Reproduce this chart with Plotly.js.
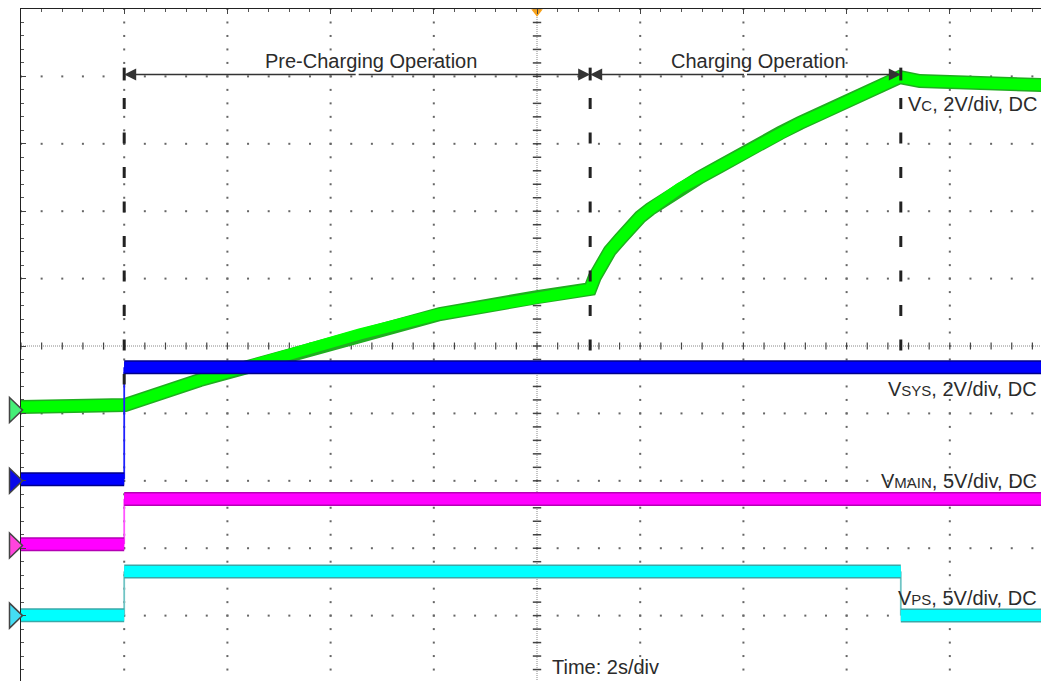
<!DOCTYPE html>
<html><head><meta charset="utf-8">
<script src="https://cdn.plot.ly/plotly-3.0.1.min.js"></script>
<style>html,body{margin:0;padding:0;overflow:hidden;background:#fff}#chart{width:1041px;height:681px}</style>
</head><body><div id="chart"></div>
<script>
// Oscilloscope capture: time 2 s/div; channel values in volts
const timeVc  = [0, 2.0, 2.02, 3.47, 5.02, 6.57, 8.12, 10.0, 10.99, 11.03, 11.12, 11.22, 11.41, 11.61, 11.80, 12.0, 12.19, 12.38, 12.77, 13.16, 13.55, 13.93, 14.32, 14.71, 15.10, 15.48, 15.87, 16.26, 16.65, 17.03, 17.42, 20];
const voltsVc = [0.09, 0.09, 0.15, 0.89, 1.57, 2.26, 2.85, 3.35, 3.56, 3.59, 3.95, 4.24, 4.72, 5.07, 5.43, 5.73, 5.96, 6.17, 6.59, 6.91, 7.24, 7.60, 7.92, 8.22, 8.52, 8.78, 9.05, 9.32, 9.58, 9.88, 9.76, 9.63];
const timeSys  = [0, 2.0, 2.0, 20];
const voltsSys = [0.05, 0.05, 3.37, 3.37];
const timeMain  = [0, 2.0, 2.0, 20];
const voltsMain = [0.1, 0.1, 3.46, 3.46];
const timePs  = [0, 2.0, 2.0, 17.05, 17.05, 20];
const voltsPs = [0.03, 0.03, 3.28, 3.28, 0, 0];

const channelScales  = [2, 2, 5, 5];               // V/div
const channelOffsets = [-0.95, -2.0, -2.96, -4.0]; // ground marker, div
const channelLabels = [
  'V<span style="font-size:15px">C</span>, 2V/div, DC',
  'V<span style="font-size:15px">SYS</span>, 2V/div, DC',
  'V<span style="font-size:15px">MAIN</span>, 5V/div, DC',
  'V<span style="font-size:15px">PS</span>, 5V/div, DC'
];
const labelLevels = [3.59, -0.64, -2.0, -3.74];
const phaseTimes = [2.0, 11.03, 17.05];
const phaseLabels = ['Pre-Charging Operation', 'Charging Operation'];
const timeLabel = 'Time: 2s/div';

const xRange = [0, 19.767];
const yRange = [-4.97, 5];

const bright = ['#00ff00', '#0000ff', '#ff00ff', '#00ffff'];
const edge   = ['#1fae1f', '#00008a', '#b400b4', '#3aa8a8'];
const thinC  = ['#33dd33', '#2020ff', '#ff55ff', '#70c4c4'];
const markC  = ['#44ee77', '#0a0ae8', '#ff44dd', '#44ddf4'];

const chans = [[timeVc, voltsVc], [timeSys, voltsSys], [timeMain, voltsMain], [timePs, voltsPs]];

function runs(t, y) {
  const thick = {x: [], y: []}, thin = {x: [], y: []};
  let prev = false;
  for (let i = 0; i < t.length - 1; i++) {
    if (t[i] === t[i + 1]) {
      thin.x.push(t[i], t[i + 1], null); thin.y.push(y[i], y[i + 1], null);
      if (prev) { thick.x.push(null); thick.y.push(null); }
      prev = false;
    } else {
      if (!prev) { thick.x.push(t[i]); thick.y.push(y[i]); }
      thick.x.push(t[i + 1]); thick.y.push(y[i + 1]);
      prev = true;
    }
  }
  return {thick, thin};
}

const traces = [];
// grid dots
const dX = [], dY = [];
for (let gx = 2; gx <= 18; gx += 2) if (gx !== 10) for (let k = -25; k <= 25; k++) { dX.push(gx); dY.push(k * 0.2); }
for (let gy = -4; gy <= 4; gy++) if (gy !== 0) for (let k = 0; k <= 50; k++) { dX.push(k * 0.4); dY.push(gy); }
traces.push({x: dX, y: dY, mode: 'markers', type: 'scatter', hoverinfo: 'skip',
  marker: {symbol: 'square', size: 2, color: '#666', line: {width: 0}}});
// center cross ticks
const hx = [], hy = [], vx = [], vy = [];
for (let k = 0; k <= 50; k++) { hx.push(k * 0.4); hy.push(0); }
for (let k = -25; k <= 25; k++) { vx.push(10); vy.push(k * 0.2); }
traces.push({x: hx, y: hy, mode: 'markers', type: 'scatter', hoverinfo: 'skip',
  marker: {symbol: 'line-ns', size: 5, line: {width: 1.2, color: '#444'}}});
traces.push({x: vx, y: vy, mode: 'markers', type: 'scatter', hoverinfo: 'skip',
  marker: {symbol: 'line-ew', size: 6, line: {width: 1.5, color: '#444'}}});

chans.forEach((c, i) => {
  const ys = c[1].map(v => channelOffsets[i] + v / channelScales[i]);
  const r = runs(c[0], ys);
  traces.push({x: r.thin.x, y: r.thin.y, mode: 'lines', type: 'scatter', hoverinfo: 'skip',
    line: {color: thinC[i], width: 1.8}});
  traces.push({x: r.thick.x, y: r.thick.y, mode: 'lines', type: 'scatter', hoverinfo: 'skip',
    line: {color: edge[i], width: 14}});
  traces.push({x: r.thick.x, y: r.thick.y, mode: 'lines', type: 'scatter', hoverinfo: 'skip',
    line: {color: bright[i], width: 11}});
});
// trigger marker
traces.push({x: [10], y: [4.96], mode: 'markers', type: 'scatter', cliponaxis: false, hoverinfo: 'skip',
  marker: {symbol: 'triangle-down', size: 10, color: '#f7a21b', line: {width: 0}}});

const shapes = [
  {type: 'line', xref: 'x', yref: 'y', x0: 10, x1: 10, y0: 5, y1: -5, line: {color: '#888', width: 1, dash: '1px,1px'}, layer: 'below'},
  {type: 'line', xref: 'x', yref: 'y', x0: 0, x1: 20, y0: 0, y1: 0, line: {color: '#888', width: 1, dash: '1px,1px'}, layer: 'below'}
];
const dashEnds = [-0.57, -0.12, -0.12];
phaseTimes.forEach((t, i) => {
  shapes.push({type: 'line', xref: 'x', yref: 'y', x0: t, x1: t, y0: 3.68, y1: dashEnds[i],
    line: {color: '#222', width: 3, dash: '11px,23.5px'}});
  shapes.push({type: 'line', xref: 'x', yref: 'y', x0: t, x1: t, y0: 4.13, y1: 3.94,
    line: {color: '#222', width: 3}});
});
// channel ground markers (left of the graticule)
channelOffsets.forEach((o, i) => shapes.push({type: 'path', xref: 'paper', yref: 'paper',
  xsizemode: 'pixel', ysizemode: 'pixel', xanchor: 0, yanchor: (o - yRange[0]) / (yRange[1] - yRange[0]),
  path: 'M -11.5 -12.5 L 1.5 0 L -11.5 12.5 Z', fillcolor: markC[i], line: {color: '#444', width: 1.5}}));

const font = {family: 'Liberation Sans, Arial, sans-serif', size: 20, color: '#2b2b2b'};
const annotations = [];
const arrowY = 4.03;
for (let i = 0; i < 2; i++) {
  const a = phaseTimes[i], b = phaseTimes[i + 1], m = (a + b) / 2;
  [a, b].forEach(end => annotations.push({xref: 'x', yref: 'y', axref: 'x', ayref: 'y',
    x: end, y: arrowY, ax: m, ay: arrowY, text: '', showarrow: true,
    arrowhead: 2, arrowsize: 1.6, arrowwidth: 1.5, arrowcolor: '#333', standoff: 0, startstandoff: 0}));
  annotations.push({xref: 'x', yref: 'y', x: m + (i === 0 ? 0.27 : 0.25), y: 4.23, text: phaseLabels[i],
    showarrow: false, font: font, xanchor: 'center', yanchor: 'middle'});
}
channelLabels.forEach((s, i) => annotations.push({xref: 'x', yref: 'y', x: 19.72, y: labelLevels[i],
  text: s, showarrow: false, font: font, xanchor: 'right', yanchor: 'middle'}));
annotations.push({xref: 'x', yref: 'y', x: 10.25, y: -4.76, text: timeLabel, showarrow: false,
  font: font, xanchor: 'left', yanchor: 'middle'});

const layout = {
  width: 1041, height: 681,
  margin: {l: 21, r: 0, t: 9, b: 0, pad: 0},
  paper_bgcolor: '#fff', plot_bgcolor: '#fff',
  showlegend: false,
  xaxis: {range: xRange, side: 'top', showgrid: false, zeroline: false, showline: true,
    linecolor: '#222', linewidth: 1.5, ticks: 'inside', ticklen: 5, tickcolor: '#444', tickwidth: 1,
    dtick: 2, tick0: 0, showticklabels: false,
    minor: {ticks: 'inside', ticklen: 3, dtick: 0.4, tick0: 0, tickcolor: '#555', tickwidth: 1, showgrid: false}},
  yaxis: {range: yRange, showgrid: false, zeroline: false, showline: true,
    linecolor: '#222', linewidth: 1.5, ticks: 'inside', ticklen: 5, tickcolor: '#444', tickwidth: 1,
    dtick: 1, tick0: 0, showticklabels: false,
    minor: {ticks: 'inside', ticklen: 3, dtick: 0.2, tick0: 0, tickcolor: '#555', tickwidth: 1, showgrid: false}},
  shapes: shapes,
  annotations: annotations
};
Plotly.newPlot('chart', traces, layout, {staticPlot: true, displayModeBar: false});
</script></body></html>
